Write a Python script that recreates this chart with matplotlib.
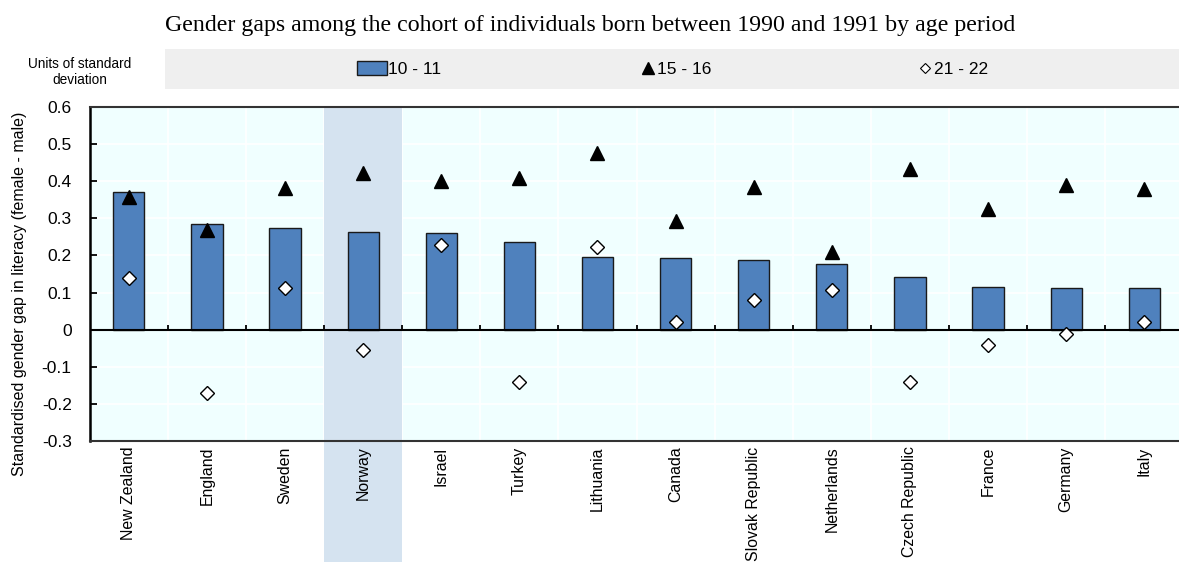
import numpy as np
import matplotlib
matplotlib.use("Agg")
import matplotlib.pyplot as plt
from matplotlib.patches import Rectangle, Patch
from matplotlib.lines import Line2D
from matplotlib.ticker import FuncFormatter, MultipleLocator

plt.rcParams['font.family'] = ['Liberation Sans', 'DejaVu Sans']

# -------------------------------------------------------------------
# data
countries = ["New Zealand", "England", "Sweden", "Norway", "Israel", "Turkey",
             "Lithuania", "Canada", "Slovak Republic", "Netherlands",
             "Czech Republic", "France", "Germany", "Italy"]
age_10_11 = [0.370, 0.284, 0.274, 0.264, 0.260, 0.236, 0.196, 0.194, 0.188,
             0.177, 0.143, 0.114, 0.113, 0.112]
age_15_16 = [0.357, 0.268, 0.382, 0.422, 0.401, 0.408, 0.475, 0.294, 0.385,
             0.209, 0.433, 0.325, 0.389, 0.380]
age_21_22 = [0.139, -0.172, 0.112, -0.055, 0.228, -0.140, 0.222, 0.020, 0.081,
             0.108, -0.140, -0.040, -0.012, 0.020]
highlight = "Norway"
series_labels = ["10 - 11", "15 - 16", "21 - 22"]

title = "Gender gaps among the cohort of individuals born between 1990 and 1991 by age period"
ylabel = "Standardised gender gap in literacy (female - male)"
units = "Units of standard\ndeviation"

bar_col = "#4F81BD"
bg_col = "#F0FFFF"
hl_col = "#D5E3F0"

#--------------------------------------------------------------------

W, H = 1179, 562
fig = plt.figure(figsize=(W / 100, H / 100), dpi=100)

# axes: left 89.7px, top 107px, bottom 441px, runs a bit past the right edge
x0, x1, y_top, y_bot = 89.7, 1183.4, 107, 441
ax = fig.add_axes([x0 / W, 1 - y_bot / H, (x1 - x0) / W, (y_bot - y_top) / H])
ax.set_facecolor(bg_col)

x = np.arange(len(countries))
ax.set_xlim(-0.5, len(countries) - 0.5)
ax.set_ylim(-0.3, 0.6)

# grid
ax.yaxis.set_major_locator(MultipleLocator(0.1))
for b in np.arange(len(countries) + 1) - 0.5:
    ax.axvline(b, color="white", lw=1.2, zorder=0.5)
ax.grid(axis="y", color="white", lw=1.2, zorder=0.5)
ax.set_axisbelow(True)

# highlight band (covers the grid), running down to the figure bottom
hi = countries.index(highlight)
ax.axvspan(hi - 0.5, hi + 0.5, color=hl_col, zorder=0.8, lw=0)
ax.add_patch(Rectangle((hi - 0.5, -1.0), 1, 1.0, transform=ax.get_xaxis_transform(),
                       facecolor=hl_col, lw=0, clip_on=False, zorder=0.1))

ax.bar(x, age_10_11, width=0.4, color=bar_col, edgecolor="#1a1a1a", lw=1, zorder=2)
ax.plot(x, age_15_16, ls="none", marker="^", ms=10, color="black", zorder=3)
ax.plot(x, age_21_22, ls="none", marker="D", ms=7.5, mfc="white", mec="black",
        mew=1, zorder=3)

ax.axhline(0, color="black", lw=1.5, zorder=2.5)
# small category-boundary ticks sitting on the zero line
ax.vlines(np.arange(1, len(countries)) - 0.5, 0, 0.013, color="black", lw=1.3, zorder=2.5)

ax.spines["right"].set_visible(False)
ax.spines["left"].set_linewidth(1.8)
ax.spines["left"].set_color("black")
ax.spines["top"].set_linewidth(1.5)
ax.spines["top"].set_color("#333333")
ax.spines["bottom"].set_linewidth(1.5)
ax.spines["bottom"].set_color("#333333")

ax.yaxis.set_major_formatter(FuncFormatter(lambda v, p: "0" if abs(v) < 1e-9 else f"{v:.1f}"))
ax.tick_params(axis="y", direction="in", length=5, width=1.3, labelsize=12.5, pad=13,
               colors="black")
ax.set_xticks(x)
ax.set_xticklabels(countries, rotation=90, fontsize=11.4)
ax.tick_params(axis="x", length=0, pad=4)

fig.text(20 / W, 1 - 294 / H, ylabel, rotation=90, ha="center", va="center", fontsize=11.5)
fig.text(80 / W, 1 - 72 / H, units, ha="center", va="center", fontsize=9.8, linespacing=1.1)

fig.text(590 / W, 1 - 25 / H, title, ha="center", va="center",
         family="Liberation Serif", fontsize=17.2)

# legend strip
fig.add_artist(Rectangle((165 / W, 1 - 89 / H), (W - 165) / W, 40 / H,
                         transform=fig.transFigure, facecolor="#EFEFEF", lw=0, zorder=0))

leg_y = 1 - 69 / H
h_bar = Patch(facecolor=bar_col, edgecolor="#1a1a1a", lw=1)
h_tri = Line2D([], [], ls="none", marker="^", ms=8, color="black")
h_dia = Line2D([], [], ls="none", marker="D", ms=5.5, mfc="white", mec="black", mew=0.8)
for h, lab, xp, hl, pad in [(h_bar, series_labels[0], 357, 1.75, 0.05),
                            (h_tri, series_labels[1], 641, 0.8, 0.1),
                            (h_dia, series_labels[2], 918, 0.8, 0.1)]:
    fig.legend([h], [lab], loc="center left", bbox_to_anchor=(xp / W, leg_y),
               frameon=False, fontsize=12.5, handlelength=hl, handleheight=0.9,
               handletextpad=pad, borderpad=0, borderaxespad=0)

fig.savefig("out.png", dpi=100)
